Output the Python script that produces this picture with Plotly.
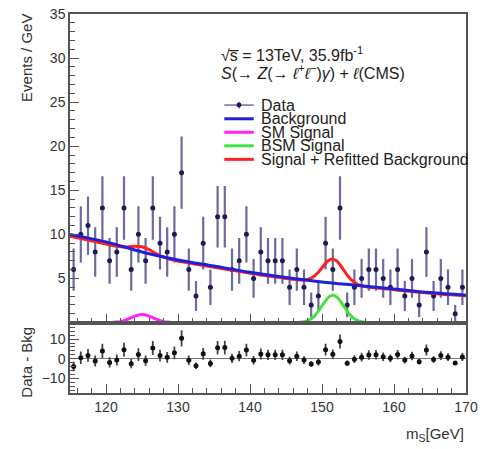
import plotly.graph_objects as go

# ---------------- data ----------------
bin_centers = [115.5 + i for i in range(55)]
counts = [6, 10, 11, 8, 13, 7, 8, 13, 6, 10, 7, 13, 9, 8, 10, 17, 6, 3, 9, 4,
          12, 12, 6, 7, 10, 5, 8,
          7, 7, 7, 4, 6, 4, 2, 3, 9, 6, 13, 2, 4, 5, 6, 6, 5, 4, 6, 3, 5, 2, 8,
          3, 5, 4, 1, 4]
count_err = [2.4, 3.2, 3.3, 2.8, 3.6, 2.6, 2.8, 3.6, 2.4, 3.2, 2.6, 3.6, 3.0, 2.8, 3.2, 4.1,
             2.4, 1.7, 3.0, 2.0, 3.5, 3.5, 2.4, 2.6, 3.2, 2.2, 2.8,
             2.6, 2.6, 2.6, 2.0, 2.4, 2.0, 1.4, 1.7, 3.0, 2.4, 3.6, 1.4, 2.0, 2.2, 2.4,
             2.4, 2.2, 2.0, 2.4, 1.7, 2.2, 1.4, 2.8, 1.7, 2.2, 2.0, 1.0, 2.0]
residuals = [-4.0, 0.5, 1.7, -1.2, 4.0, -1.9, -0.7, 4.6, -2.5, 2.1, -1.0, 5.5, 1.6, 0.7,
             3.0, 10.4, -0.8, -3.6, 2.5, -2.4, 5.6, 5.7, 0.2, 1.3, 4.5, -0.8, 2.4,
             2.0, 2.0, 2.0, -1.0, 1.3, -0.7, -2.7, -1.7, 4.6, 2.3, 8.8, -2.3, -0.2,
             0.8, 1.9, 2.0, 1.0, 0.2, 2.1, -0.7, 1.4, -1.5, 4.5, -0.4, 1.6, 0.8, -2.2, 0.9]

bkg_x = [115, 120, 125, 130, 135, 140, 145, 150, 155, 160, 165, 170]
bkg_y = [10.0, 9.15, 8.0, 7.1, 6.4, 5.7, 5.1, 4.6, 4.2, 3.8, 3.4, 3.1]

sm_x = [121, 121.5, 122, 122.5, 123, 123.5, 124, 124.5, 125, 125.5, 126, 126.5, 127,
        127.5, 128, 128.5, 129]
sm_y = [0.03, 0.06, 0.10, 0.22, 0.37, 0.55, 0.72, 0.85, 0.9, 0.85, 0.72, 0.55, 0.37,
        0.22, 0.10, 0.06, 0.03]

bsm_x = [146.5, 147, 147.5, 148, 148.5, 149, 149.5, 150, 150.5, 151, 151.5, 152, 152.5,
         153, 153.5, 154, 154.5, 155, 155.5, 156, 156.5]
bsm_y = [0.01, 0.03, 0.09, 0.21, 0.42, 0.78, 1.28, 1.88, 2.48, 2.93, 3.1, 2.93, 2.48,
         1.88, 1.28, 0.78, 0.42, 0.21, 0.09, 0.03, 0.01]

sig_x = [115, 118, 121, 122, 123, 124, 125, 126, 127, 128, 129, 132, 136, 140, 144,
         146, 147, 148, 149, 149.5, 150, 150.5, 151, 151.5, 152, 152.5, 153, 153.5,
         154, 155, 156, 157, 160, 165, 170]
sig_y = [9.8, 9.27, 8.72, 8.59, 8.58, 8.66, 8.59, 8.26, 7.80, 7.41, 7.15, 6.68, 6.13,
         5.59, 5.12, 4.90, 4.83, 4.88, 5.31, 5.71, 6.21, 6.71, 7.08, 7.19, 7.00, 6.55,
         5.97, 5.38, 4.89, 4.30, 4.07, 3.96, 3.72, 3.33, 3.04]

legend_labels = ["Data", "Background", "SM Signal", "BSM Signal",
                 "Signal + Refitted Background"]
legend_colors = ["#6b6bb0", "#2020d8", "#ff22ff", "#44e044", "#ff2020"]

FONT = "Liberation Sans, Arial, Helvetica, sans-serif"
AXC = "#555555"
TXT = "#333333"

fig = go.Figure()

# top panel
fig.add_trace(go.Scatter(
    x=bin_centers, y=counts, mode="markers",
    marker=dict(color="#1c1c55", size=5),
    error_y=dict(type="data", array=count_err, color="#6b6ba0", thickness=2.2, width=0),
    xaxis="x", yaxis="y", showlegend=False))
fig.add_trace(go.Scatter(x=sm_x, y=sm_y, mode="lines", line=dict(color="#ff22ff", width=3, shape="spline"),
                         xaxis="x", yaxis="y", showlegend=False))
fig.add_trace(go.Scatter(x=bsm_x, y=bsm_y, mode="lines", line=dict(color="#44e044", width=3, shape="spline"),
                         xaxis="x", yaxis="y", showlegend=False))
fig.add_trace(go.Scatter(x=sig_x, y=sig_y, mode="lines", line=dict(color="#ff2020", width=3, shape="spline"),
                         xaxis="x", yaxis="y", showlegend=False))
fig.add_trace(go.Scatter(x=bkg_x, y=bkg_y, mode="lines", line=dict(color="#2020d8", width=3, shape="spline"),
                         xaxis="x", yaxis="y", showlegend=False))

# bottom panel
fig.add_trace(go.Scatter(
    x=bin_centers, y=residuals, mode="markers",
    marker=dict(color="#111111", size=5),
    error_y=dict(type="data", array=count_err, color="#444444", thickness=1.8, width=0),
    xaxis="x2", yaxis="y2", showlegend=False))

common_x = dict(range=[115, 170], dtick=10, tick0=110, ticks="inside", ticklen=9,
                tickcolor=AXC, tickwidth=1.2,
                minor=dict(dtick=2, ticklen=5, ticks="inside", tickcolor=AXC, tickwidth=1),
                showline=True, mirror=True, linecolor=AXC, linewidth=1.5,
                showgrid=False, zeroline=False, ticklabeloverflow="allow")

fig.update_layout(
    width=484, height=449,
    margin=dict(l=70, r=11, t=6, b=56),
    paper_bgcolor="white", plot_bgcolor="white",
    font=dict(family=FONT, size=14, color=TXT),
    xaxis=dict(**common_x, anchor="y", showticklabels=False, matches="x2"),
    xaxis2=dict(**common_x, anchor="y2", showticklabels=True,
                tickfont=dict(size=14, color=TXT)),
    yaxis=dict(domain=[0.186, 1], range=[0, 35], tickvals=[5, 10, 15, 20, 25, 30, 35],
               ticks="inside", ticklen=9, tickcolor=AXC, tickwidth=1.2,
               minor=dict(dtick=1, ticklen=5, ticks="inside", tickcolor=AXC, tickwidth=1),
               showline=True, mirror=True, linecolor=AXC, linewidth=1.5,
               showgrid=False, zeroline=False, anchor="x", ticklabeloverflow="allow",
               tickfont=dict(size=14, color=TXT)),
    yaxis2=dict(domain=[0, 0.186], range=[-17.5, 18.5], tickvals=[-10, 0, 10],
                ticks="inside", ticklen=9, tickcolor=AXC, tickwidth=1.2,
                minor=dict(dtick=2, ticklen=5, ticks="inside", tickcolor=AXC, tickwidth=1),
                showline=True, mirror=True, linecolor=AXC, linewidth=1.5,
                showgrid=False, zeroline=True, zerolinecolor="#777777", zerolinewidth=1.2,
                anchor="x2", ticklabeloverflow="allow", tickfont=dict(size=14, color=TXT)),
)

ann = []
ann.append(dict(text="Events / GeV", textangle=-90, xref="paper", yref="paper",
                x=0, xshift=-43, y=0.884, xanchor="center", yanchor="middle",
                showarrow=False, font=dict(size=15, color=TXT)))
ann.append(dict(text="Data - Bkg", textangle=-90, xref="paper", yref="paper",
                x=0, xshift=-43, y=0.080, xanchor="center", yanchor="middle",
                showarrow=False, font=dict(size=15, color=TXT)))
ann.append(dict(text="m<sub>S</sub>[GeV]", xref="paper", yref="paper",
                x=1, y=-0.1085, xanchor="right", yanchor="middle",
                showarrow=False, font=dict(size=15, color=TXT)))
ann.append(dict(text="\u221as\u0305 = 13TeV, 35.9fb<sup>-1</sup>",
                xref="paper", yref="paper",
                x=0.377, y=0.894, xanchor="left", yanchor="middle",
                showarrow=False, font=dict(size=16, color="#222222")))
ann.append(dict(text="<i>S</i>(\u2192 <i>Z</i>(\u2192 <i>\u2113</i><sup>+</sup><i>\u2113</i><sup>\u2212</sup>)<i>\u03b3</i>) + <i>\u2113</i>(CMS)",
                xref="paper", yref="paper",
                x=0.377, y=0.8475, xanchor="left", yanchor="middle",
                showarrow=False, font=dict(size=16, color="#222222")))

legend_rows = [0.7597, 0.7235, 0.6879, 0.6522, 0.6165]
shapes = []
for lab, col, yy in zip(legend_labels, legend_colors, legend_rows):
    ann.append(dict(text=lab, xref="paper", yref="paper", x=0.4764, y=yy,
                    xanchor="left", yanchor="middle", showarrow=False,
                    font=dict(size=16, color="#222222")))
    shapes.append(dict(type="line", xref="paper", yref="paper", x0=0.3896, x1=0.464,
                       y0=yy, y1=yy, line=dict(color=col, width=3 if lab != "Data" else 1.5)))
# data marker in legend
shapes.append(dict(type="line", xref="paper", yref="paper", x0=0.4268, x1=0.4268,
                   y0=legend_rows[0] - 0.009, y1=legend_rows[0] + 0.009,
                   line=dict(color="#6b6bb0", width=1.5)))
shapes.append(dict(type="circle", xref="paper", yref="paper",
                   x0=0.4268 - 0.0062, x1=0.4268 + 0.0062,
                   y0=legend_rows[0] - 0.0065, y1=legend_rows[0] + 0.0065,
                   fillcolor="#1c1c55", line=dict(width=0)))

fig.update_layout(annotations=ann, shapes=shapes)

fig.write_html("out.html", config={"displayModeBar": False},
               post_script="document.body.style.margin='0';document.body.style.padding='0';")
